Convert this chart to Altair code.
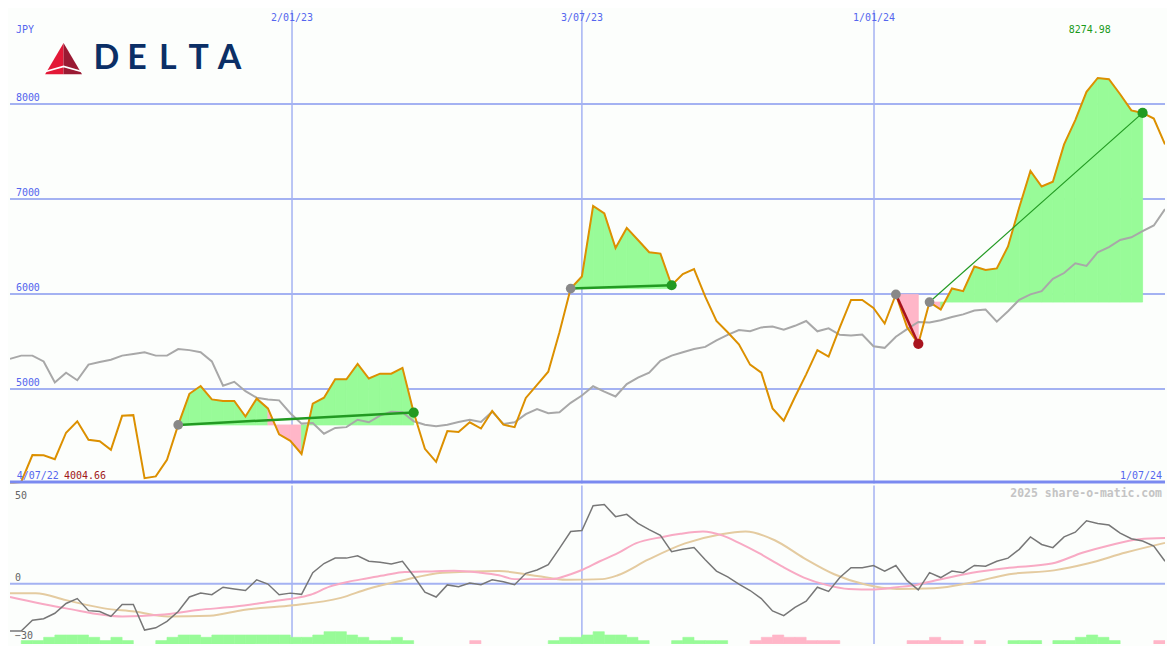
import altair as alt
import pandas as pd

# ---------------- data ----------------
PRICE = [4004.66, 4020, 4304, 4301, 4260, 4539, 4659, 4465, 4450, 4358,
         4717, 4724, 4061, 4079, 4253, 4621, 4949, 5031, 4890, 4874,
         4874, 4710, 4898, 4795, 4522, 4454, 4315, 4846, 4908, 5102,
         5102, 5263, 5110, 5161, 5161, 5222, 4751, 4369, 4232, 4556,
         4547, 4649, 4583, 4768, 4624, 4598, 4905, 5044, 5181, 5597,
         6057, 6184, 6927, 6849, 6484, 6696, 6569, 6440, 6426, 6092,
         6211, 6262, 5972, 5716, 5597, 5471, 5256, 5171, 4795, 4665,
         4915, 5154, 5409, 5341, 5648, 5938, 5938, 5853, 5689, 5996,
         5650, 5475, 5915, 5836, 6058, 6030, 6290, 6252, 6269, 6501,
         6911, 7296, 7132, 7183, 7576, 7832, 8129, 8274.98, 8262, 8104,
         7934, 7907, 7848, 7576]

MA = [5317, 5351, 5351, 5290, 5068, 5171, 5092, 5256, 5283, 5307,
      5351, 5368, 5386, 5351, 5351, 5420, 5409, 5386, 5290, 5034,
      5075, 4976, 4908, 4890, 4880, 4744, 4635, 4642, 4529, 4590,
      4598, 4676, 4649, 4720, 4761, 4754, 4659, 4624, 4608, 4624,
      4652, 4676, 4652, 4761, 4632, 4649, 4734, 4788, 4744, 4754,
      4854, 4931, 5028, 4972, 4921, 5051, 5120, 5171, 5297, 5351,
      5386, 5420, 5443, 5512, 5570, 5621, 5607, 5648, 5658, 5624,
      5665, 5716, 5607, 5638, 5570, 5563, 5573, 5450, 5433, 5550,
      5630, 5706, 5699, 5723, 5757, 5785, 5826, 5836, 5709, 5819,
      5939, 5996, 6030, 6160, 6221, 6323, 6296, 6440, 6494, 6569,
      6597, 6661, 6722, 6894]

OSC = [-27.0, -27.0, -20.9, -20.0, -16.9, -11.3, -8.5, -15.4, -15.9, -18.7,
       -11.9, -11.9, -26.5, -25.2, -21.5, -15.9, -7.6, -5.4, -6.3, -2.0,
       -3.0, -3.9, 2.2, -0.2, -6.3, -5.4, -6.1, 6.3, 11.5, 14.6,
       14.6, 15.9, 12.8, 12.2, 11.3, 12.8, 4.4, -4.8, -7.6, -0.7,
       -1.7, 0.4, -0.6, 2.2, 1.1, -0.6, 5.9, 7.8, 10.9, 20.2,
       29.8, 30.4, 44.5, 45.2, 38.3, 39.6, 34.4, 30.9, 27.6, 18.3,
       19.6, 20.6, 13.7, 7.2, 3.9, -0.2, -3.9, -8.5, -15.6, -18.3,
       -13.5, -10.0, -2.0, -4.4, 3.5, 9.1, 9.1, 10.4, 7.2, 10.4,
       1.7, -3.5, 6.3, 3.5, 7.2, 6.3, 10.4, 10.0, 12.8, 14.6,
       19.6, 26.7, 22.4, 20.6, 26.7, 29.4, 35.9, 34.4, 33.5, 28.9,
       25.7, 24.4, 21.5, 12.8]

SIGNAL_WEEK = [0, 5, 10, 13.4, 16.8, 20.1, 23.5, 25.2, 26.8, 28.5, 30.2, 31.9,
               33.5, 35.2, 36.9, 39.6, 41.9, 43.6, 45, 48.3, 50, 51, 52.6, 54.2,
               55.8, 58.2, 59.8, 61.8, 63.5, 65.1, 66.8, 68.8, 70.8, 72.8, 74.8,
               77.1, 79.1, 80.8, 82.4, 85.8, 89.1, 92.9, 95.7, 98.1, 100.7, 103]
SIGNAL = [-7.6, -14.1, -18.7, -17.8, -15.0, -13.1, -10.0, -8.5, -6.3, -1.7, 1.1, 3.1,
          5.0, 6.7, 6.9, 7.4, 6.3, 4.8, 2.6, 2.6, 5.4, 7.8, 12.8, 17.4,
          23.0, 26.7, 28.5, 29.8, 27.6, 23.0, 17.4, 10.0, 3.5, -0.7, -3.0,
          -3.3, -2.0, -0.7, 1.7, 6.3, 9.1, 11.5, 17.8, 22.0, 25.4, 26.1]

SLOW_WEEK = [0, 2.3, 5, 8.4, 11.1, 14.1, 17.8, 20.8, 24.8, 29.5, 31.9, 34.9,
             38.6, 43.6, 47, 49.6, 52.8, 54.2, 56.9, 60.2, 63.3, 65.6, 68.2,
             70.8, 73.5, 76.1, 79.1, 82.4, 85.8, 89.1, 93.1, 96.1, 99.5, 103]
SLOW = [-5.4, -5.4, -9.4, -14.1, -15.9, -18.7, -18.3, -15.0, -12.6, -8.1, -3.0, 1.7,
        6.3, 7.2, 4.4, 2.2, 2.6, 4.8, 13.7, 23.0, 28.1, 29.8, 24.8,
        14.6, 5.4, -0.2, -3.0, -2.6, 0.7, 5.4, 7.6, 11.5, 17.8, 23.3]

HIST = [0, 1, 1, 2, 2.7, 2.7, 2.7, 2, 1, 2,
        1, 0, 0, 1, 2, 2.7, 2.7, 2, 2.7, 2.7,
        2.7, 2.7, 2.7, 2.7, 2.7, 2, 2, 2.7, 3.7, 3.7,
        2.7, 2, 1, 1, 2, 1, 0, 0, 0, 0,
        0, -1, 0, 0, 0, 0, 0, 0, 1, 2,
        2, 2.7, 3.7, 2.7, 2.7, 2, 1, 0, 0, 1,
        2, 1, 1, 1, 0, 0, -1, -2, -2.7, -2,
        -2, -1, -1, -1, 0, 0, 0, 0, 0, 0,
        -1, -1, -2, -1, -1, 0, -1, 0, 0, 1,
        1, 1, 0, 1, 1, 2, 2.7, 2, 1, 0,
        0, 0, -1, 0]

Y_TICKS = [5000, 6000, 7000, 8000]
DATE_TICK_LABELS = ["2/01/23", "3/07/23", "1/01/24"]
DATE_TICK_WEEKS = [25.15, 51.0, 77.05]
OSC_TICKS = [50, 0, -30]
BUY_WEEKS = [15, 50, 79, 82]
SELL_WEEKS = [36, 59, 81, 101]
START_LABEL = "4/07/22"
END_LABEL = "1/07/24"
CURRENCY = "JPY"
LOGO = "DELTA"
CREDIT = "2025 share-o-matic.com"
TOP_MAX = 8990          # upper edge of the price panel
OSC_RANGE = [-34.4, 56.1]
HIST_MAX = 48

# ---------------- style ----------------
W = 1159
H_TOP = 475
H_BOT = 159
SX = W / 1175
SY = (H_TOP + H_BOT) / 650
BG = "#fcfefc"
GRID = "#a4b2f2"
AXIS_DARK = "#7a8af0"
LABEL_BLUE = "#5566ee"
ORANGE = "#dc9000"
MA_GREY = "#a8a8a8"
GAIN_FILL = "#98fb98"
LOSS_FILL = "#ffb6c8"
GAIN_LINE = "#229a22"
LOSS_LINE = "#a8141e"
BUY_GREY = "#888888"
OSC_GREY = "#777777"
SIGNAL_PINK = "#f8aac4"
SLOW_TAN = "#e4cba0"
MONO = "DejaVu Sans Mono"
TRADE_LINE_WIDTH = [2.5, 2.5, 2.5, 1.2]
FILL_OF = {"gain": GAIN_FILL, "loss": LOSS_FILL}
LINE_OF = {"gain": GAIN_LINE, "loss": LOSS_LINE}

# ---------------- frames ----------------
weeks = list(range(len(PRICE)))
df = pd.DataFrame({"k": weeks, "price": PRICE, "ma": MA, "osc": OSC, "hist": HIST})
hist_df = df[df["hist"] != 0].copy()
hist_df["mag"] = hist_df["hist"].abs()
hist_df["k1"] = hist_df["k"] + 1
hist_df["col"] = [FILL_OF["gain"] if h > 0 else FILL_OF["loss"] for h in hist_df["hist"]]

seg_rows, line_rows, sell_rows, buy_rows = [], [], [], []
for t, (b, s) in enumerate(zip(BUY_WEEKS, SELL_WEEKS)):
    base = PRICE[b]
    for i in range(b, s):
        state = "gain" if PRICE[i + 1] >= base else "loss"
        sid = f"{t}-{i}"
        for kk in (i, i + 1):
            seg_rows.append({"seg": sid, "k": kk, "p": PRICE[kk], "base": base,
                             "col": FILL_OF[state]})
    outcome = "gain" if PRICE[s] >= PRICE[b] else "loss"
    for kk in (b, s):
        line_rows.append({"trade": t, "k": kk, "p": PRICE[kk], "col": LINE_OF[outcome],
                          "w": TRADE_LINE_WIDTH[t]})
    buy_rows.append({"k": b, "p": PRICE[b]})
    sell_rows.append({"k": s, "p": PRICE[s], "col": LINE_OF[outcome]})
seg_df = pd.DataFrame(seg_rows)
line_df = pd.DataFrame(line_rows)
buy_df = pd.DataFrame(buy_rows)
sell_df = pd.DataFrame(sell_rows)
date_df = pd.DataFrame({"k": DATE_TICK_WEEKS, "label": DATE_TICK_LABELS})
signal_df = pd.DataFrame({"k": SIGNAL_WEEK, "v": SIGNAL})
slow_df = pd.DataFrame({"k": SLOW_WEEK, "v": SLOW})

kmax = max(weeks, key=lambda i: PRICE[i])
kmin = min(weeks, key=lambda i: PRICE[i])
max_df = pd.DataFrame({"k": [kmax], "t": [f"{PRICE[kmax]:.2f}"]})
one = pd.DataFrame({"a": [0]})

XS = alt.Scale(domain=[0, len(PRICE) - 1], nice=False, zero=False)
YS = alt.Scale(domain=[PRICE[kmin], TOP_MAX], nice=False, zero=False)
YO = alt.Scale(domain=OSC_RANGE, nice=False, zero=False)
X = alt.X("k:Q", scale=XS, axis=None)
COL = alt.Color("col:N", scale=None, legend=None)
STROKECOL = alt.Stroke("col:N", scale=None, legend=None)

# ---------------- top panel ----------------
hgrid = alt.Chart(pd.DataFrame({"v": Y_TICKS})).mark_rule(color=GRID, strokeWidth=2).encode(
    y=alt.Y("v:Q", scale=YS, axis=None))
vgrid = alt.Chart(date_df).mark_rule(color=GRID, strokeWidth=1.5).encode(x=X)
areas = alt.Chart(seg_df).mark_area(clip=True, opacity=1, strokeWidth=0.8).encode(
    x=X, y=alt.Y("p:Q", scale=YS, axis=None, stack=None), y2="base:Q",
    detail="seg:N", fill=alt.Fill("col:N", scale=None, legend=None), stroke=STROKECOL)
ma_line = alt.Chart(df).mark_line(color=MA_GREY, strokeWidth=2, clip=True).encode(
    x=X, y=alt.Y("ma:Q", scale=YS, axis=None))
price_line = alt.Chart(df).mark_line(color=ORANGE, strokeWidth=2, clip=True).encode(
    x=X, y=alt.Y("price:Q", scale=YS, axis=None))
trade_lines = alt.Chart(line_df).mark_line(clip=True).encode(
    x=X, y=alt.Y("p:Q", scale=YS, axis=None), detail="trade:N", color=COL,
    strokeWidth=alt.StrokeWidth("w:Q", scale=None, legend=None))
buys = alt.Chart(buy_df).mark_point(filled=True, size=95, color=BUY_GREY, opacity=1).encode(
    x=X, y=alt.Y("p:Q", scale=YS, axis=None))
sells = alt.Chart(sell_df).mark_point(filled=True, size=105, opacity=1).encode(
    x=X, y=alt.Y("p:Q", scale=YS, axis=None), color=COL)
ytick_text = alt.Chart(pd.DataFrame({"v": Y_TICKS})).mark_text(
    align="left", baseline="bottom", dy=-1, font=MONO, fontSize=10, color=LABEL_BLUE).encode(
    x=alt.value(6 * SX), y=alt.Y("v:Q", scale=YS, axis=None), text="v:Q")
date_text = alt.Chart(date_df).mark_text(
    align="center", baseline="middle", font=MONO, fontSize=10, color=LABEL_BLUE).encode(
    x=X, y=alt.value(8 * SY), text="label:N")
cur_text = alt.Chart(one).mark_text(
    align="left", baseline="middle", font=MONO, fontSize=10, color=LABEL_BLUE, text=CURRENCY).encode(
    x=alt.value(6 * SX), y=alt.value(20 * SY))
max_text = alt.Chart(max_df).mark_text(
    align="center", baseline="middle", font=MONO, fontSize=10, color="#1a9a1a", dx=-8).encode(
    x=X, y=alt.value(20 * SY), text="t:N")
start_text = alt.Chart(one).mark_text(
    align="left", baseline="middle", font=MONO, fontSize=10, color=LABEL_BLUE, text=START_LABEL).encode(
    x=alt.value(7 * SX), y=alt.value(479 * SY))
min_text = alt.Chart(one).mark_text(
    align="left", baseline="middle", font=MONO, fontSize=10, color="#a01818", text=f"{PRICE[kmin]:.2f}").encode(
    x=alt.value(55 * SX), y=alt.value(479 * SY))
end_text = alt.Chart(one).mark_text(
    align="right", baseline="middle", font=MONO, fontSize=10, color=LABEL_BLUE, text=END_LABEL).encode(
    x=alt.value(W - 3), y=alt.value(479 * SY))
sep = alt.Chart(one).mark_rule(color=AXIS_DARK, strokeWidth=3).encode(
    x=alt.value(0), x2=alt.value(W), y=alt.value(H_TOP - 1.5), y2=alt.value(H_TOP - 1.5))

# logo
LX, LY = 54.5 * SX, 50 * SY
tri_left = alt.Chart(one).mark_point(
    shape="M0,-0.85L0,0.85L-1,0.85Z", size=37 * 37, filled=True, color="#e31837", opacity=1).encode(
    x=alt.value(LX), y=alt.value(LY))
tri_right = alt.Chart(one).mark_point(
    shape="M0,-0.85L1,0.85L0,0.85Z", size=37 * 37, filled=True, color="#9a1a33", opacity=1).encode(
    x=alt.value(LX), y=alt.value(LY))
chevron = alt.Chart(one).mark_point(
    shape="M-0.97,0.7L0,0.42L0.97,0.7", size=37 * 37, filled=False, color="white",
    strokeWidth=1.6, opacity=1).encode(x=alt.value(LX), y=alt.value(LY))
letters_df = pd.DataFrame({"ch": list(LOGO)})
letters_df["px"] = [(98 + i * 31.3) * SX for i in range(len(LOGO))]
logo_text = alt.Chart(letters_df).mark_text(
    align="center", baseline="middle", font="Lato", fontWeight="bold", fontSize=34,
    color="#0b2f66").encode(
    x=alt.X("px:Q", scale=None, axis=None), y=alt.value(50 * SY), text="ch:N")

top = alt.layer(
    hgrid, vgrid, areas, ma_line, price_line, trade_lines, buys, sells,
    ytick_text, date_text, cur_text, max_text, start_text, min_text, end_text, sep,
    tri_left, tri_right, chevron, logo_text,
).properties(width=W, height=H_TOP)

# ---------------- bottom panel ----------------
zero_rule = alt.Chart(pd.DataFrame({"v": [0]})).mark_rule(color=GRID, strokeWidth=2).encode(
    y=alt.Y("v:Q", scale=YO, axis=None))
vgrid_b = alt.Chart(date_df).mark_rule(color=GRID, strokeWidth=1.5).encode(x=X)
hist = alt.Chart(hist_df).mark_rect(clip=True, strokeWidth=0.6).encode(
    x=X, x2="k1:Q",
    y=alt.Y("mag:Q", scale=alt.Scale(domain=[0, HIST_MAX], nice=False, zero=True), axis=None),
    y2=alt.value(H_BOT), fill=alt.Fill("col:N", scale=None, legend=None), stroke=STROKECOL)
slow_line = alt.Chart(slow_df).mark_line(color=SLOW_TAN, strokeWidth=2, interpolate="monotone", clip=True).encode(
    x=X, y=alt.Y("v:Q", scale=YO, axis=None))
signal_line = alt.Chart(signal_df).mark_line(color=SIGNAL_PINK, strokeWidth=2, interpolate="monotone", clip=True).encode(
    x=X, y=alt.Y("v:Q", scale=YO, axis=None))
osc_line = alt.Chart(df).mark_line(color=OSC_GREY, strokeWidth=1.5, clip=True).encode(
    x=X, y=alt.Y("osc:Q", scale=YO, axis=None))
osc_ticks = pd.DataFrame({"v": OSC_TICKS})
osc_tick_text = alt.Chart(osc_ticks).transform_filter("datum.v != 0").mark_text(
    align="left", baseline="middle", font=MONO, fontSize=10, color="#666666").encode(
    x=alt.value(5 * SX), y=alt.Y("v:Q", scale=YO, axis=None), text="v:Q")
osc_zero_text = alt.Chart(osc_ticks).transform_filter("datum.v == 0").mark_text(
    align="left", baseline="bottom", dy=-1, font=MONO, fontSize=10, color="#666666").encode(
    x=alt.value(5 * SX), y=alt.Y("v:Q", scale=YO, axis=None), text="v:Q")
credit = alt.Chart(one).mark_text(
    align="right", baseline="middle", font=MONO, fontSize=11.5, fontWeight="bold",
    color="#c4c4c4", text=CREDIT).encode(x=alt.value(W - 3), y=alt.value(9 * SY))

bottom = alt.layer(
    zero_rule, vgrid_b, hist, slow_line, signal_line, osc_line,
    osc_tick_text, osc_zero_text, credit,
).resolve_scale(y="independent").properties(width=W, height=H_BOT)

chart = alt.vconcat(top, bottom, spacing=0).properties(
    padding=0, background=BG
).configure_view(strokeWidth=0)

chart.save("out.html", embed_options={"renderer": "svg", "actions": False})
